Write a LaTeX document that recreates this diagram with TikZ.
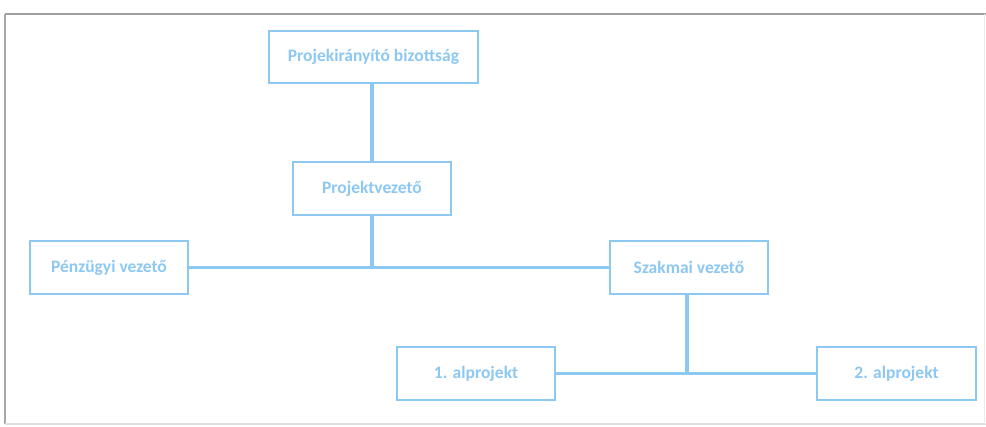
\documentclass[tikz,border=0pt]{standalone}
\usepackage{fontspec}
\setmainfont{Carlito}
\definecolor{lb}{HTML}{8CC8F2}
\begin{document}
\begin{tikzpicture}[x=1pt,y=-1pt,
  orgbox/.style={draw=lb,line width=2.2pt,fill=white,inner sep=0pt,
    text=lb,font=\fontsize{17.5}{20}\selectfont\bfseries},
  conn/.style={draw=lb,line width=3.8pt}]
\useasboundingbox (0,0) rectangle (986,427);
\fill[white] (0,0) rectangle (986,427);
% outer frame
\draw[gray!75,line width=2pt] (5,14) -- (986,14);
\draw[gray!70,line width=1.6pt] (5,14) -- (5,424);
\draw[gray!25,line width=1.2pt] (5,424) -- (986,424);
\draw[gray!15,line width=1pt] (984,14) -- (984,424);
% nodes
\node[orgbox,minimum width=209pt,minimum height=52pt] (pb) at (373.5,57) {Projekirányító bizottság};
\node[orgbox,minimum width=158pt,minimum height=53pt] (pv) at (372,188.5) {Projektvezető};
\node[orgbox,minimum width=158pt,minimum height=53pt] (pz) at (109,267.5) {Pénzügyi vezető};
\node[orgbox,minimum width=158pt,minimum height=53pt] (sz) at (689,267.5) {Szakmai vezető};
\node[orgbox,minimum width=158pt,minimum height=53pt] (a1) at (476,373.5) {1. alprojekt};
\node[orgbox,minimum width=159pt,minimum height=53pt] (a2) at (896.5,373.5) {2. alprojekt};
\coordinate (j1) at (372,267.5);
\coordinate (j2) at (687,373.5);
% connectors
\draw[conn] (pb.south -| pv.north) -- (pv.north);
\draw[conn] (pv.south) -- (j1);
\draw[conn] (pz.east) -- (sz.west);
\draw[conn] (sz.south -| j2) -- (j2);
\draw[conn] (a1.east) -- (a2.west);
\end{tikzpicture}
\end{document}
